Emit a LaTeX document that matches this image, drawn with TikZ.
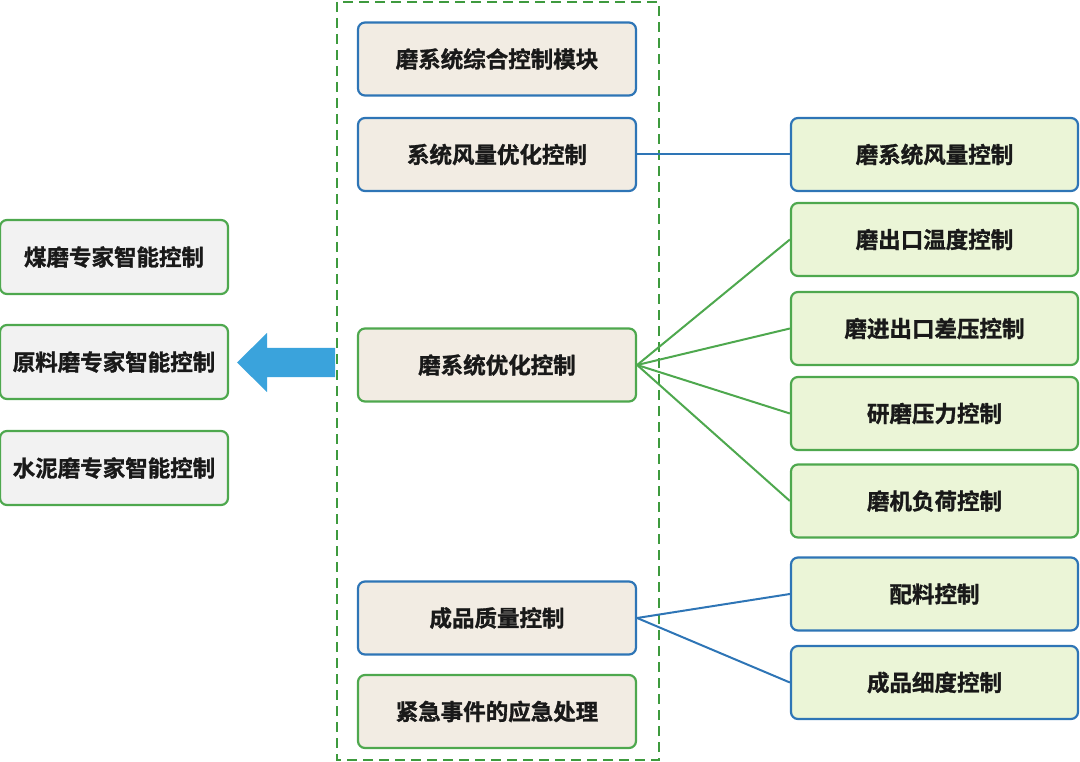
\documentclass[tikz,border=0pt]{standalone}
\usepackage{fontspec}
\newfontfamily\cjk{Noto Sans CJK SC}[BoldFont={Noto Sans CJK SC Bold}, BoldFeatures={FakeBold=1.2}]
\definecolor{bblue}{HTML}{2E75B6}
\definecolor{bgreen}{HTML}{4EA84E}
\definecolor{fbeige}{HTML}{F2ECE3}
\definecolor{flgreen}{HTML}{EBF5D7}
\definecolor{fgray}{HTML}{F2F2F2}
\definecolor{arrblue}{HTML}{3AA3DC}
\definecolor{dgreen}{HTML}{3E9A3E}
\begin{document}
\begin{tikzpicture}[x=1pt,y=-1pt,
  box/.style={rounded corners=7pt, line width=2.2pt, inner sep=0pt,
    font=\cjk\bfseries\fontsize{22.5}{26}\selectfont, text=black!90},
  midbox/.style={box, minimum width=278pt, minimum height=73pt, fill=fbeige},
  rightbox/.style={box, minimum width=287pt, minimum height=73pt, fill=flgreen},
  leftbox/.style={box, minimum width=228pt, minimum height=74pt, fill=fgray, draw=bgreen},
  bl/.style={draw=bblue},
  gr/.style={draw=bgreen},
  bline/.style={draw=bblue, line width=2pt},
  gline/.style={draw=bgreen, line width=2pt}]
\useasboundingbox (0,0) rectangle (1080,762);
\draw[dgreen, line width=2.2pt, dash pattern=on 10pt off 6pt] (337,2) rectangle (659,760);
% middle column
\node[midbox,bl] (m1) at (497,59) {磨系统综合控制模块};
\node[midbox,bl] (m2) at (497,154.5) {系统风量优化控制};
\node[midbox,gr] (m3) at (497,365) {磨系统优化控制};
\node[midbox,bl] (m4) at (497,618) {成品质量控制};
\node[midbox,gr] (m5) at (497,711.5) {紧急事件的应急处理};
% left column
\node[leftbox] (l1) at (114,257) {煤磨专家智能控制};
\node[leftbox] (l2) at (114,362) {原料磨专家智能控制};
\node[leftbox] (l3) at (114,468) {水泥磨专家智能控制};
% right column
\node[rightbox,bl] (r1) at (934.5,154.5) {磨系统风量控制};
\node[rightbox,gr] (r2) at (934.5,239.5) {磨出口温度控制};
\node[rightbox,gr] (r3) at (934.5,328.5) {磨进出口差压控制};
\node[rightbox,gr] (r4) at (934.5,413.5) {研磨压力控制};
\node[rightbox,gr] (r5) at (934.5,501) {磨机负荷控制};
\node[rightbox,bl] (r6) at (934.5,594) {配料控制};
\node[rightbox,bl] (r7) at (934.5,682.5) {成品细度控制};
% connectors
\draw[bline] (m2.east) -- (r1.west);
\foreach \r in {r2,r3,r4,r5} \draw[gline] (m3.east) -- (\r.west);
\draw[bline] (m4.east) -- (r6.west);
\draw[bline] (m4.east) -- (r7.west);
% big arrow
\fill[arrblue] (335,348) -- (267,348) -- (267,333) -- (237,362.5) -- (267,392) -- (267,377) -- (335,377) -- cycle;
\end{tikzpicture}
\end{document}
